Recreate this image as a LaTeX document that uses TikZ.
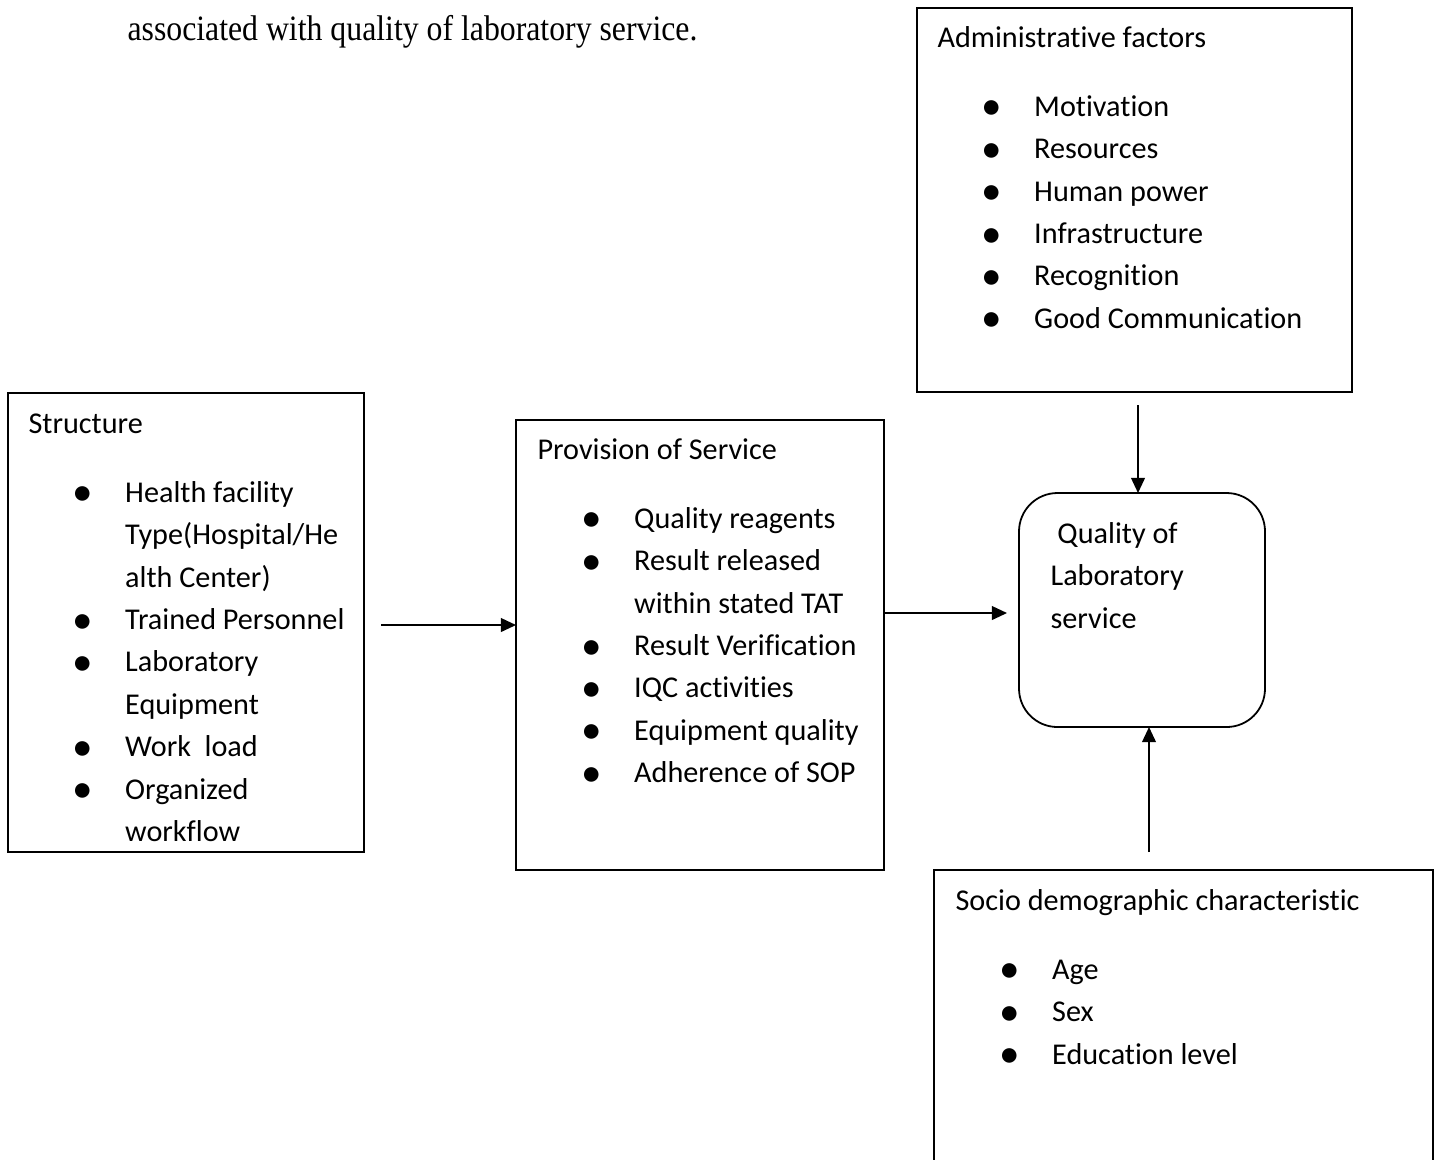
\documentclass[tikz,border=0pt]{standalone}
\usepackage{graphicx}
\usepackage{fontspec}
\setmainfont{Carlito}[Ligatures=NoCommon]
\newfontfamily\timesfont{Liberation Serif}
\usetikzlibrary{fit,calc,arrows.meta}
\newcommand{\bul}{\raisebox{-1.3pt}{\fontsize{15}{15}\selectfont\textbullet}}
\newcommand{\itm}{\hspace*{19.9pt}\makebox[0pt]{\bul}\hspace*{15.3pt}}
\newcommand{\cnt}{\hspace*{35.2pt}}

\begin{document}
\begin{tikzpicture}[x=0.3642pt,y=-0.3642pt]
  % some styles
  \tikzset{
    box/.style={draw, line width=0.65pt, inner sep=0pt, outer sep=0pt},
    txt/.style={anchor=north west, inner sep=0pt, align=left,
      font=\fontsize{11}{15.44}\selectfont},
    arr/.style={-{Triangle[length=5.5pt,width=5pt]}, line width=0.65pt}
  }
  \useasboundingbox (0,0) rectangle (1436,1159);
  \clip (0,0) rectangle (1436,1159);

  \node[anchor=base west, inner sep=0pt, font=\timesfont\fontsize{13}{15}\selectfont]
    (intro) at (127,40) {\scalebox{0.89}[1]{associated with quality of laboratory service.}};

  % the boxes
  \node[box, fit={(917,8) (1352,392)}] (admin) {};
  \node[box, fit={(8,393) (364,852)}] (struct) {};
  \node[box, fit={(516,420) (884,870)}] (prov) {};
  \node[box, fit={(934,870) (1433,1200)}] (socio) {};
  \node[box, rounded corners=14pt, fit={(1019,493) (1265,727)}] (qual) {};

  % what stands in them
  \node[txt] (admintxt) at (937,17) {\strut Administrative factors\\[9.7pt]
    \itm Motivation\\ \itm Resources\\ \itm Human power\\
    \itm Infrastructure\\ \itm Recognition\\ \itm Good Communication};
  \node[txt] (structtxt) at (28,403) {\strut Structure\\[9.7pt]
    \itm Health facility\\ \cnt Type(Hospital/He\\ \cnt alth Center)\\
    \itm Trained Personnel\\ \itm Laboratory\\ \cnt Equipment\\
    \itm Work\ \ load\\ \itm Organized\\ \cnt workflow};
  \node[txt] (provtxt) at (537,429) {\strut Provision of Service\\[9.7pt]
    \itm Quality reagents\\ \itm Result released\\ \cnt within stated TAT\\
    \itm Result Verification\\ \itm IQC activities\\
    \itm Equipment quality\\ \itm Adherence of SOP};
  \node[txt] (sociotxt) at (955,880) {\strut Socio demographic characteristic\\[9.7pt]
    \itm Age\\ \itm Sex\\ \itm Education level};
  \node[txt] (qualtxt) at (1050,513) {\strut\hspace*{2.5pt}Quality of\\
    Laboratory\\ service};

  % arrows
  \coordinate (s1) at ($(struct.east)+(17,2.5)$);
  \draw[arr] (s1) -- (s1 -| prov.west);
  \coordinate (q0) at ($(qual.west)+(-12,3)$);
  \draw[arr] (prov.east |- q0) -- (q0);
  \coordinate (a1) at ($(admin.south)+(3.5,13)$);
  \draw[arr] (a1) -- (a1 |- qual.north);
  \coordinate (q1) at ($(qual.south)+(7,0)$);
  \path (q1 |- socio.north) ++(0,-18) coordinate (s2);
  \draw[arr] (s2) -- (q1);
\end{tikzpicture}
\end{document}
